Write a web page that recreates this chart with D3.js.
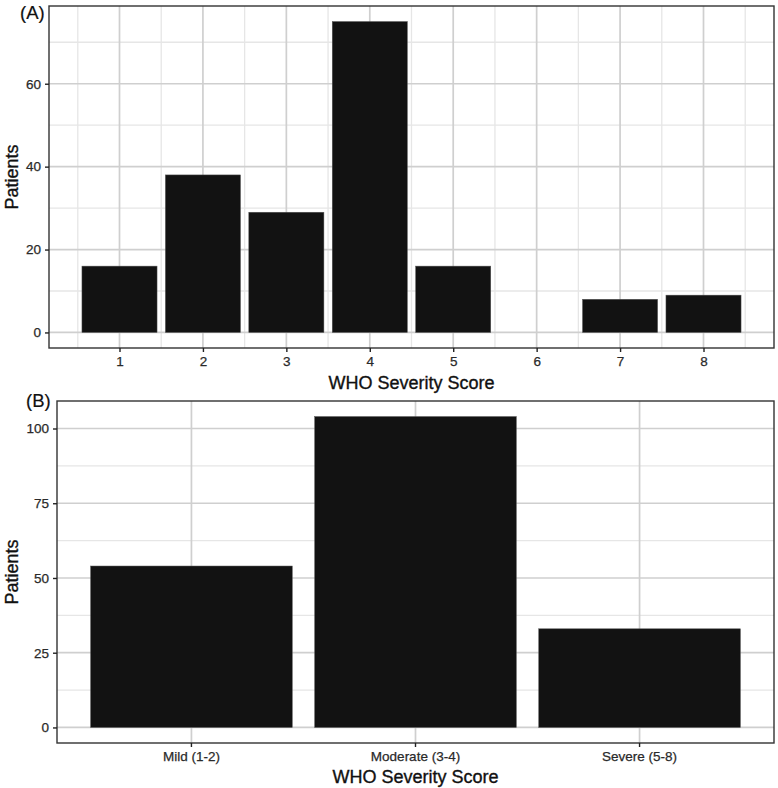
<!DOCTYPE html>
<html><head><meta charset="utf-8">
<script src="https://cdn.jsdelivr.net/npm/d3@7"></script>
<style>body{margin:0;background:#fff}svg{display:block;font-family:"Liberation Sans",Arial,sans-serif}</style>
</head><body><svg id="c" width="778" height="788"></svg>
<script>
// Panel A data
const scoresA = [1,2,3,4,5,6,7,8];
const patientsA = [16,38,29,75,16,0,8,9];
const yTicksA = [0,20,40,60];
// Panel B data
const groupsB = ["Mild (1-2)","Moderate (3-4)","Severe (5-8)"];
const patientsB = [54,104,33];
const yTicksB = [0,25,50,75,100];

const svg = d3.select("#c");
const major = "#cfcfcf", minor = "#e6e6e6", border = "#333", barFill = "#121212";

function styleAxis(a){
  a.select(".domain").remove();
  a.selectAll(".tick line").attr("stroke","#222").attr("stroke-width",1.4);
  a.selectAll("text").attr("fill","#2a2a2a").attr("stroke","#2a2a2a").attr("stroke-width",0.25)
   .style("font-size","13.5px").style("font-family","Liberation Sans, Arial, sans-serif");
}
function title(g,attrs,txt){
  const t=g.append("text").style("font-size","18px").attr("fill","#111").attr("stroke","#111").attr("stroke-width",0.35).text(txt);
  Object.entries(attrs).forEach(([k,v])=>t.attr(k,v));
  return t;
}
function panelA(){
  const L=49,R=774,T=6,B=348;
  const x = d3.scaleLinear().domain([0.55-0.395,8.45+0.395]).range([L,R]);
  const ymax = d3.max(patientsA);
  const y = d3.scaleLinear().domain([-ymax*0.05, ymax*1.05]).range([B,T]);
  const g = svg.append("g");
  const xMinor = d3.range(0.5,9,1), yMinor=[10,30,50,70];
  g.selectAll(".xm").data(xMinor).join("line").attr("x1",d=>x(d)).attr("x2",d=>x(d)).attr("y1",T).attr("y2",B).attr("stroke",minor).attr("stroke-width",1.3);
  g.selectAll(".ym").data(yMinor).join("line").attr("x1",L).attr("x2",R).attr("y1",d=>y(d)).attr("y2",d=>y(d)).attr("stroke",minor).attr("stroke-width",1.3);
  g.selectAll(".xM").data(scoresA).join("line").attr("x1",d=>x(d)).attr("x2",d=>x(d)).attr("y1",T).attr("y2",B).attr("stroke",major).attr("stroke-width",1.7);
  g.selectAll(".yM").data(yTicksA).join("line").attr("x1",L).attr("x2",R).attr("y1",d=>y(d)).attr("y2",d=>y(d)).attr("stroke",major).attr("stroke-width",1.7);
  g.selectAll("rect.bar").data(scoresA.map((s,i)=>({s,v:patientsA[i]})).filter(d=>d.v>0)).join("rect")
    .attr("x",d=>x(d.s-0.45)).attr("width",d=>x(d.s+0.45)-x(d.s-0.45))
    .attr("y",d=>y(d.v)).attr("height",d=>y(0)-y(d.v)).attr("fill",barFill).attr("stroke","#555").attr("stroke-width",0.5);
  g.append("rect").attr("x",L).attr("y",T).attr("width",R-L).attr("height",B-T).attr("fill","none").attr("stroke",border).attr("stroke-width",1.4);
  const xa = g.append("g").attr("transform",`translate(0,${B})`).call(d3.axisBottom(x).tickValues(scoresA).tickSize(4).tickPadding(4).tickFormat(d3.format("d")));
  const ya = g.append("g").attr("transform",`translate(${L},0)`).call(d3.axisLeft(y).tickValues(yTicksA).tickSize(4).tickPadding(4));
  styleAxis(xa); styleAxis(ya);
  title(g,{x:(L+R)/2,y:389,"text-anchor":"middle"},"WHO Severity Score");
  title(g,{transform:`translate(18,${(T+B)/2}) rotate(-90)`,"text-anchor":"middle"},"Patients");
  title(g,{x:20,y:19},"(A)").style("font-size","18.5px").attr("stroke-width",0.2);
}
function panelB(){
  const L=57,R=774,T=401,B=743;
  const unit=(R-L)/3.2;
  const x = d3.scaleBand().domain(groupsB).range([L+0.1*unit,R-0.1*unit]).paddingInner(0.1).paddingOuter(0.05);
  const ymax = d3.max(patientsB);
  const y = d3.scaleLinear().domain([-ymax*0.05, ymax*1.05]).range([B,T]);
  const g = svg.append("g");
  const yMinor=[12.5,37.5,62.5,87.5];
  g.selectAll(".ym").data(yMinor).join("line").attr("x1",L).attr("x2",R).attr("y1",d=>y(d)).attr("y2",d=>y(d)).attr("stroke",minor).attr("stroke-width",1.3);
  const cx = d=>x(d)+x.bandwidth()/2;
  g.selectAll(".xM").data(groupsB).join("line").attr("x1",cx).attr("x2",cx).attr("y1",T).attr("y2",B).attr("stroke",major).attr("stroke-width",1.7);
  g.selectAll(".yM").data(yTicksB).join("line").attr("x1",L).attr("x2",R).attr("y1",d=>y(d)).attr("y2",d=>y(d)).attr("stroke",major).attr("stroke-width",1.7);
  g.selectAll("rect.bar").data(groupsB.map((c,i)=>({c,v:patientsB[i]}))).join("rect")
    .attr("x",d=>x(d.c)).attr("width",x.bandwidth())
    .attr("y",d=>y(d.v)).attr("height",d=>y(0)-y(d.v)).attr("fill",barFill).attr("stroke","#555").attr("stroke-width",0.5);
  g.append("rect").attr("x",L).attr("y",T).attr("width",R-L).attr("height",B-T).attr("fill","none").attr("stroke",border).attr("stroke-width",1.4);
  const xa = g.append("g").attr("transform",`translate(0,${B})`).call(d3.axisBottom(x).tickSize(4).tickPadding(4));
  const ya = g.append("g").attr("transform",`translate(${L},0)`).call(d3.axisLeft(y).tickValues(yTicksB).tickSize(4).tickPadding(4));
  styleAxis(xa); styleAxis(ya);
  title(g,{x:(L+R)/2,y:783,"text-anchor":"middle"},"WHO Severity Score");
  title(g,{transform:`translate(18,${(T+B)/2}) rotate(-90)`,"text-anchor":"middle"},"Patients");
  title(g,{x:26,y:407},"(B)").style("font-size","18.5px").attr("stroke-width",0.2);
}
panelA(); panelB();
</script></body></html>
